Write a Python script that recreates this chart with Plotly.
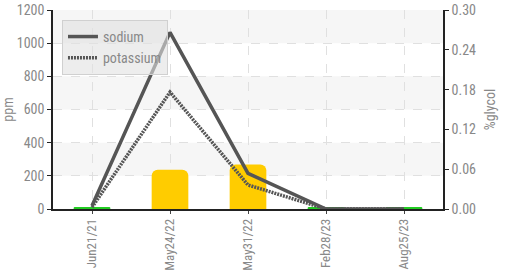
import plotly.graph_objects as go

dates = ["Jun21/21", "May24/22", "May31/22", "Feb28/23", "Aug25/23"]
sodium = [20, 1065, 215, 0, 0]
potassium = [10, 705, 145, 0, 0]
glycol = [0, 0.059, 0.067, 0, 0]

MIN_BAR = 0.002  # minimum visible bar length for zero values
bar_heights = [v if v > 0 else MIN_BAR for v in glycol]
bar_colors = ["#ffcc00" if v > 0 else "#22cc22" for v in glycol]

FONT = "Roboto Condensed, Liberation Sans Narrow, Roboto, sans-serif"
GRAY = "#888888"

fig = go.Figure()
fig.add_trace(go.Bar(
    x=dates, y=bar_heights, yaxis="y", width=0.47,
    marker=dict(color=bar_colors, cornerradius=6, line=dict(width=0)),
    showlegend=False, name="%glycol"))
fig.add_trace(go.Scatter(
    x=dates, y=sodium, yaxis="y2", mode="lines", name="sodium",
    line=dict(color="#555555", width=3.5)))
fig.add_trace(go.Scatter(
    x=dates, y=potassium, yaxis="y2", mode="lines", name="potassium",
    line=dict(color="#555555", width=3.5, dash="2px,1px")))

# alternating horizontal bands on the ppm axis
ppm_ticks = list(range(0, 1201, 200))
shapes = []
for i in range(len(ppm_ticks) - 1):
    if i % 2 == 1:
        shapes.append(dict(type="rect", xref="paper", yref="y2", x0=0, x1=1,
                           y0=ppm_ticks[i], y1=ppm_ticks[i + 1],
                           fillcolor="#f6f6f6", line=dict(width=0), layer="below"))

fig.update_layout(
    width=505, height=273,
    margin=dict(l=53, r=62, t=10, b=64),
    paper_bgcolor="white", plot_bgcolor="white",
    font=dict(family=FONT, size=14, color=GRAY),
    shapes=shapes,
    xaxis=dict(type="category", range=[-0.5, 4.5], tickangle=-90,
               showgrid=True, gridcolor="#e0e0e0", griddash="dash",
               showline=True, linecolor="#222", linewidth=1.5,
               ticks="outside", ticklen=3, tickcolor="#444",
               tickfont=dict(color=GRAY, size=13), automargin=False),
    yaxis=dict(side="right", range=[0, 0.30], dtick=0.06, tickformat=".2f",
               showgrid=False, showline=True, linecolor="#222", linewidth=1.5,
               ticks="outside", ticklen=4, tickcolor="#222", automargin=False,
               title=dict(text="%glycol", font=dict(color=GRAY, size=14), standoff=10),
               zeroline=False),
    yaxis2=dict(side="left", overlaying="y", range=[0, 1200], dtick=200,
                showgrid=True, gridcolor="#e0e0e0", griddash="dash",
                showline=True, linecolor="#222", linewidth=1.5,
                ticks="outside", ticklen=4, tickcolor="#222", automargin=False,
                title=dict(text="ppm", font=dict(color=GRAY, size=14), standoff=10),
                zeroline=False),
    legend=dict(x=0.023, y=0.95, xanchor="left", yanchor="top",
                bgcolor="rgba(225,225,225,0.6)", bordercolor="#d0d0d0", borderwidth=1,
                font=dict(color=GRAY, size=14), tracegroupgap=0),
)

# remove the default 8px page margin so the figure fills the window exactly
fig.write_html("out.html", config={"displayModeBar": False},
               post_script="document.body.style.margin='0';")
